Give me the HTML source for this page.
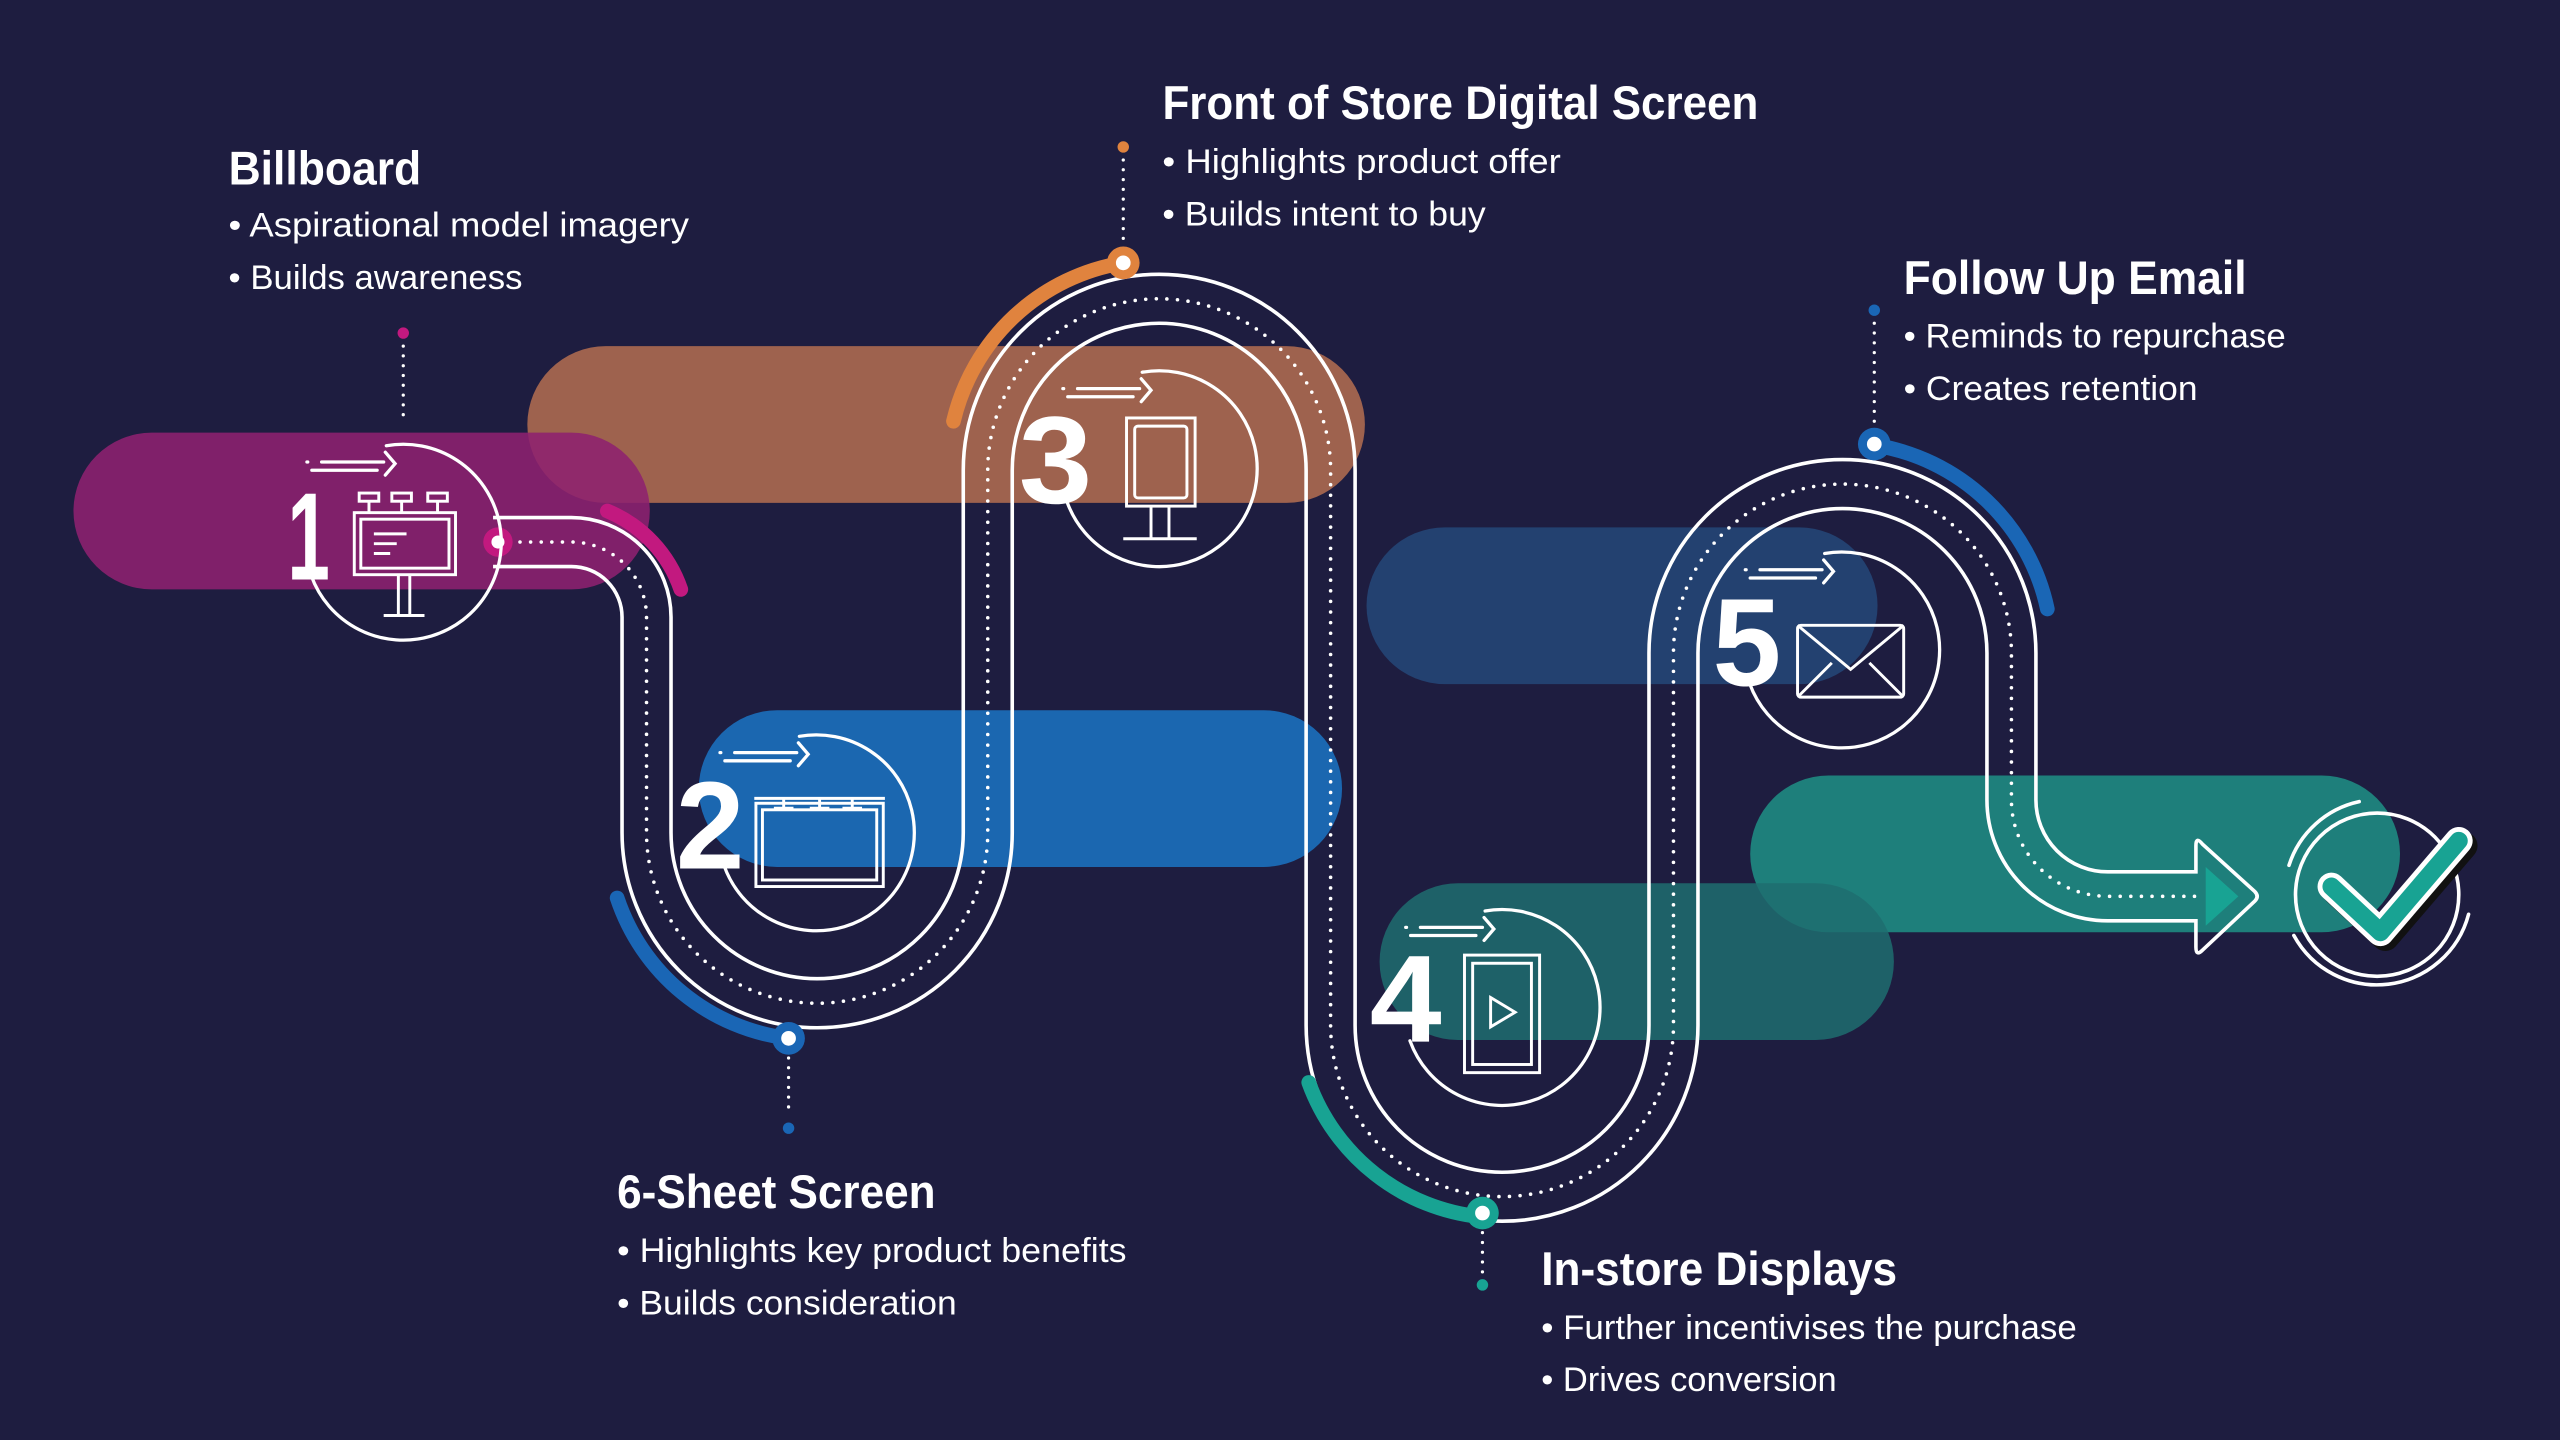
<!DOCTYPE html>
<html><head><meta charset="utf-8"><style>
html,body{margin:0;padding:0;background:#1e1d40;}
svg{display:block;}
text{font-family:"Liberation Sans",sans-serif;fill:#fff;}
</style></head><body>
<svg width="2560" height="1440" viewBox="0 0 1568 882" xmlns="http://www.w3.org/2000/svg">
<rect width="1568" height="882" fill="#1e1d40"/>
<!-- bars -->
<rect x="323" y="212" width="513" height="96" rx="48" fill="#9e624e"/>
<rect x="45" y="265" width="353" height="96" rx="48" fill="#8e2170" opacity="0.88"/>
<rect x="428" y="435" width="394" height="96" rx="48" fill="#1b67b0"/>
<rect x="837" y="323" width="313" height="96" rx="48" fill="#234170"/>
<rect x="1072" y="475" width="398" height="96" rx="48" fill="#1e7f7b"/>
<rect x="845" y="541" width="315" height="96" rx="48" fill="#1e6d70" opacity="0.85"/>

<!-- track -->
<g fill="none" stroke="#fff" stroke-width="2.2">
<path d="M302,317 H350 A61,61 0 0 1 411,378 V510 A89.5,89.5 0 0 0 590,510 V288 A120,120 0 0 1 830,288 V628 A90,90 0 0 0 1010,628 V400 A118.5,118.5 0 0 1 1247,400 V490 A44,44 0 0 0 1291,534 H1345 V518 Q1345,512 1349,517 L1381,546 Q1384,549 1381,552 L1349,582 Q1345,586 1345,580 V564 H1291 A74,74 0 0 1 1217,490 V400 A88.5,88.5 0 0 0 1040,400 V628 A120,120 0 0 1 800,628 V288 A90,90 0 0 0 620,288 V510 A119.5,119.5 0 0 1 381,510 V378 A31,31 0 0 0 350,347 H302"/>
</g>
<path d="M312,332 H350 A46,46 0 0 1 396,378 V510 A104.5,104.5 0 0 0 605,510 V288 A105,105 0 0 1 815,288 V628 A105,105 0 0 0 1025,628 V400 A103.5,103.5 0 0 1 1232,400 V490 A59,59 0 0 0 1291,549 H1345" fill="none" stroke="#fff" stroke-width="2.2" stroke-linecap="round" stroke-dasharray="0 6.5"/>
<path d="M1351,531 L1371,549 L1351,567 Z" fill="#18a393"/>

<!-- colored arcs -->
<g fill="none" stroke-width="9" stroke-linecap="round">
<path d="M372,313 A80,80 0 0 1 417,361" stroke="#c2197f"/>
<path d="M378,550 A127,127 0 0 0 483,636" stroke="#1a66b5"/>
<path d="M584,258 A128,128 0 0 1 688,161" stroke="#e0833e"/>
<path d="M801.6,663 A126,126 0 0 0 906.8,745.3" stroke="#18a393"/>
<path d="M1148,272.6 A129,129 0 0 1 1254,373" stroke="#1a66b5"/>
</g>

<!-- leaders -->
<g fill="none" stroke="#fff" stroke-width="2" stroke-linecap="round" stroke-dasharray="0 6">
<path d="M247,212 V258"/><path d="M688,98 V150"/><path d="M483,648 V684"/><path d="M908,755 V782"/><path d="M1148,198 V262"/>
</g>
<circle cx="247" cy="204" r="3.5" fill="#c2197f"/>
<circle cx="688" cy="90" r="3.5" fill="#e0833e"/>
<circle cx="483" cy="691" r="3.5" fill="#1a66b5"/>
<circle cx="908" cy="787" r="3.5" fill="#18a393"/>
<circle cx="1148" cy="190" r="3.5" fill="#1a66b5"/>

<!-- nodes -->
<circle cx="305" cy="332" r="9" fill="#c2197f"/><circle cx="305" cy="332" r="4" fill="#fff"/>
<circle cx="483" cy="636" r="10" fill="#1a66b5"/><circle cx="483" cy="636" r="4.5" fill="#fff"/>
<circle cx="688" cy="161" r="10" fill="#e0833e"/><circle cx="688" cy="161" r="4.5" fill="#fff"/>
<circle cx="908" cy="743" r="10" fill="#18a393"/><circle cx="908" cy="743" r="4.5" fill="#fff"/>
<circle cx="1148" cy="272" r="10" fill="#1a66b5"/><circle cx="1148" cy="272" r="4.5" fill="#fff"/>

<!-- icon circles + arrows -->
<g fill="none" stroke="#fff" stroke-width="2" stroke-linecap="round">
<g transform="translate(247,332)"><path d="M-10.4,-59 A60,60 0 1 1 -56.4,20.5"/><path d="M-50,-49 H-12 M-56,-44 H-16 M-11,-55 L-5,-48 L-11,-41 M-59,-49 h0.5"/></g>
<g transform="translate(500,510)"><path d="M-10.4,-59 A60,60 0 1 1 -56.4,20.5"/><path d="M-50,-49 H-12 M-56,-44 H-16 M-11,-55 L-5,-48 L-11,-41 M-59,-49 h0.5"/></g>
<g transform="translate(710,287)"><path d="M-10.4,-59 A60,60 0 1 1 -56.4,20.5"/><path d="M-50,-49 H-12 M-56,-44 H-16 M-11,-55 L-5,-48 L-11,-41 M-59,-49 h0.5"/></g>
<g transform="translate(920,617)"><path d="M-10.4,-59 A60,60 0 1 1 -56.4,20.5"/><path d="M-50,-49 H-12 M-56,-44 H-16 M-11,-55 L-5,-48 L-11,-41 M-59,-49 h0.5"/></g>
<g transform="translate(1128,398)"><path d="M-10.4,-59 A60,60 0 1 1 -56.4,20.5"/><path d="M-50,-49 H-12 M-56,-44 H-16 M-11,-55 L-5,-48 L-11,-41 M-59,-49 h0.5"/></g>
</g>

<!-- icons -->
<g fill="none" stroke="#fff" stroke-width="1.8">
<g transform="translate(247,332)">
<rect x="-30" y="-18" width="62" height="38"/><rect x="-26" y="-14" width="54" height="30"/>
<path d="M-18,-5 H2 M-18,1 H-4 M-18,7 H-8"/>
<rect x="-27" y="-30" width="12" height="5"/><rect x="-7" y="-30" width="12" height="5"/><rect x="15" y="-30" width="12" height="5"/>
<path d="M-21,-25 V-18 M-1,-25 V-18 M21,-25 V-18 M-3,20 V45 M4,20 V45 M-12,45 H13"/>
</g>
<g transform="translate(500,510)">
<path d="M-38,-21 H42 M-20,-21 V-15 M2,-21 V-15 M22,-21 V-15 M-26,-15 H-14 M-4,-15 H8 M16,-15 H28"/>
<rect x="-37" y="-18" width="78" height="51"/><rect x="-33" y="-14" width="70" height="43"/>
</g>
<g transform="translate(710,287)">
<rect x="-20" y="-31" width="42" height="54"/><rect x="-15" y="-26" width="32" height="44" rx="2"/>
<path d="M-5,23 V43 M6,23 V43 M-22,43 H23"/>
</g>
<g transform="translate(920,617)">
<rect x="-23" y="-32" width="46" height="72"/><rect x="-18" y="-27" width="36" height="62"/>
<path d="M-7,-6 L8,3 L-7,12 Z"/>
</g>
<g transform="translate(1128,398)">
<rect x="-27" y="-15" width="65" height="44" rx="2"/>
<path d="M-27,-15 L5.5,12 L38,-15 M-26,28 L-6,8 M37,28 L17,8"/>
</g>
</g>

<!-- checkmark -->
<g fill="none" stroke="#fff" stroke-width="2.2" stroke-linecap="round">
<circle cx="1456" cy="548" r="50"/>
<path d="M1405,573 A58,58 0 0 0 1512,560"/>
<path d="M1402,530 A58,58 0 0 1 1445,491"/>
</g>
<polyline points="1431,546 1461,574 1509,518" fill="none" stroke="#111" stroke-width="17" stroke-linecap="round" stroke-linejoin="round"/>
<polyline points="1428,543 1458,571 1506,515" fill="none" stroke="#fff" stroke-width="17" stroke-linecap="round" stroke-linejoin="round"/>
<polyline points="1428,543 1458,571 1506,515" fill="none" stroke="#18a393" stroke-width="11" stroke-linecap="round" stroke-linejoin="round"/>

<!-- numbers -->
<g font-weight="bold" font-size="76">
<text x="176" y="355" textLength="26" lengthAdjust="spacingAndGlyphs">1</text>
<text x="414" y="532" textLength="42" lengthAdjust="spacingAndGlyphs">2</text>
<text x="624" y="308" textLength="45" lengthAdjust="spacingAndGlyphs">3</text>
<text x="839" y="638" textLength="44" lengthAdjust="spacingAndGlyphs">4</text>
<text x="1049" y="420" textLength="42" lengthAdjust="spacingAndGlyphs">5</text>
</g>

<!-- labels -->
<g font-weight="bold" font-size="29">
<text x="140" y="113" textLength="118" lengthAdjust="spacingAndGlyphs">Billboard</text>
<text x="712" y="73" textLength="365" lengthAdjust="spacingAndGlyphs">Front of Store Digital Screen</text>
<text x="1166" y="180" textLength="210" lengthAdjust="spacingAndGlyphs">Follow Up Email</text>
<text x="378" y="740" textLength="195" lengthAdjust="spacingAndGlyphs">6-Sheet Screen</text>
<text x="944" y="787" textLength="218" lengthAdjust="spacingAndGlyphs">In-store Displays</text>
</g>
<g font-size="21">
<text x="140" y="145" textLength="282" lengthAdjust="spacingAndGlyphs">• Aspirational model imagery</text>
<text x="140" y="177" textLength="180" lengthAdjust="spacingAndGlyphs">• Builds awareness</text>
<text x="712" y="106" textLength="244" lengthAdjust="spacingAndGlyphs">• Highlights product offer</text>
<text x="712" y="138" textLength="198" lengthAdjust="spacingAndGlyphs">• Builds intent to buy</text>
<text x="1166" y="213" textLength="234" lengthAdjust="spacingAndGlyphs">• Reminds to repurchase</text>
<text x="1166" y="245" textLength="180" lengthAdjust="spacingAndGlyphs">• Creates retention</text>
<text x="378" y="773" textLength="312" lengthAdjust="spacingAndGlyphs">• Highlights key product benefits</text>
<text x="378" y="805" textLength="208" lengthAdjust="spacingAndGlyphs">• Builds consideration</text>
<text x="944" y="820" textLength="328" lengthAdjust="spacingAndGlyphs">• Further incentivises the purchase</text>
<text x="944" y="852" textLength="181" lengthAdjust="spacingAndGlyphs">• Drives conversion</text>
</g>
</svg>
</body></html>
